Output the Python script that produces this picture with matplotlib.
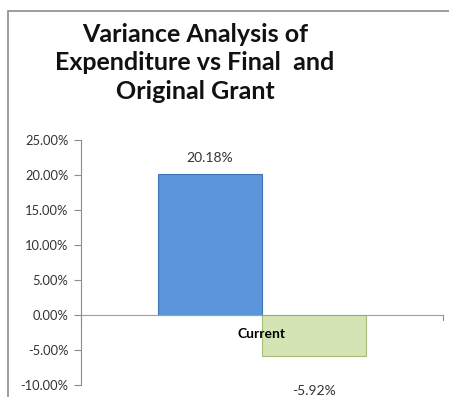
import matplotlib
matplotlib.use("Agg")
import matplotlib.pyplot as plt
from matplotlib.patches import Rectangle
from matplotlib.ticker import FuncFormatter

# data
category = "Current"
series_names = ["Final Grant", "Original Grant"]
variance_pct = [20.18, -5.92]
bar_colors = ["#5b96dd", "#d5e4b4"]
edge_colors = ["#3f74b5", "#a5bd74"]
y_ticks = [-10, -5, 0, 5, 10, 15, 20, 25]

plt.rcParams["font.family"] = ["Lato", "DejaVu Sans"]

W, H = 449, 397
fig = plt.figure(figsize=(W / 100, H / 100), dpi=100)

# chart border (cut off on right/bottom in the reference)
fig.patches.append(Rectangle((8 / W, -0.05), 1.1, (H - 11) / H + 0.05,
                             transform=fig.transFigure, fill=False,
                             edgecolor="#8c8c8c", lw=1.2))

ax = fig.add_axes([81 / W, (H - 385) / H, 362 / W, 245 / H])

width = 0.287
xs = [-width / 2, width / 2]
for x, v, c, ec in zip(xs, variance_pct, bar_colors, edge_colors):
    ax.bar(x, v, width=width, color=c, edgecolor=ec, lw=0.8, zorder=2)

ax.set_xlim(-0.5, 0.5)
ax.set_ylim(y_ticks[0], y_ticks[-1])
ax.set_yticks(y_ticks)
ax.yaxis.set_major_formatter(FuncFormatter(lambda v, _: f"{v:.2f}%"))
ax.tick_params(axis="y", direction="out", length=5, width=0.8,
               color="#8c8c8c", labelsize=9.3, labelcolor="#333333", pad=4)
ax.set_xticks([])

for s in ["top", "right", "bottom"]:
    ax.spines[s].set_visible(False)
ax.spines["left"].set_color("#8c8c8c")
ax.spines["left"].set_linewidth(0.8)

# zero line with category boundary ticks
ax.axhline(0, color="#a0a0a0", lw=0.8, zorder=3)
for xb in (-0.5, 0.5):
    ax.plot([xb, xb], [0, -0.7], color="#8c8c8c", lw=0.8, clip_on=False, zorder=3)

# data labels
ax.text(xs[0], variance_pct[0] + 1.4, f"{variance_pct[0]:.2f}%", ha="center",
        va="bottom", fontsize=10, color="#333333")
ax.text(xs[1], variance_pct[1] - 4.9, f"{variance_pct[1]:.2f}%", ha="center",
        va="center", fontsize=10, color="#333333", clip_on=False)
ax.text(0, -2.7, category, ha="center", va="center", fontsize=10,
        fontweight="bold", color="black", zorder=4)

fig.text(195 / W, 1 - 63 / H, "Variance Analysis of\nExpenditure vs Final  and\nOriginal Grant",
         ha="center", va="center", fontsize=18, fontweight="bold",
         linespacing=1.3, color="#111111")

fig.savefig("out.png", dpi=100)
